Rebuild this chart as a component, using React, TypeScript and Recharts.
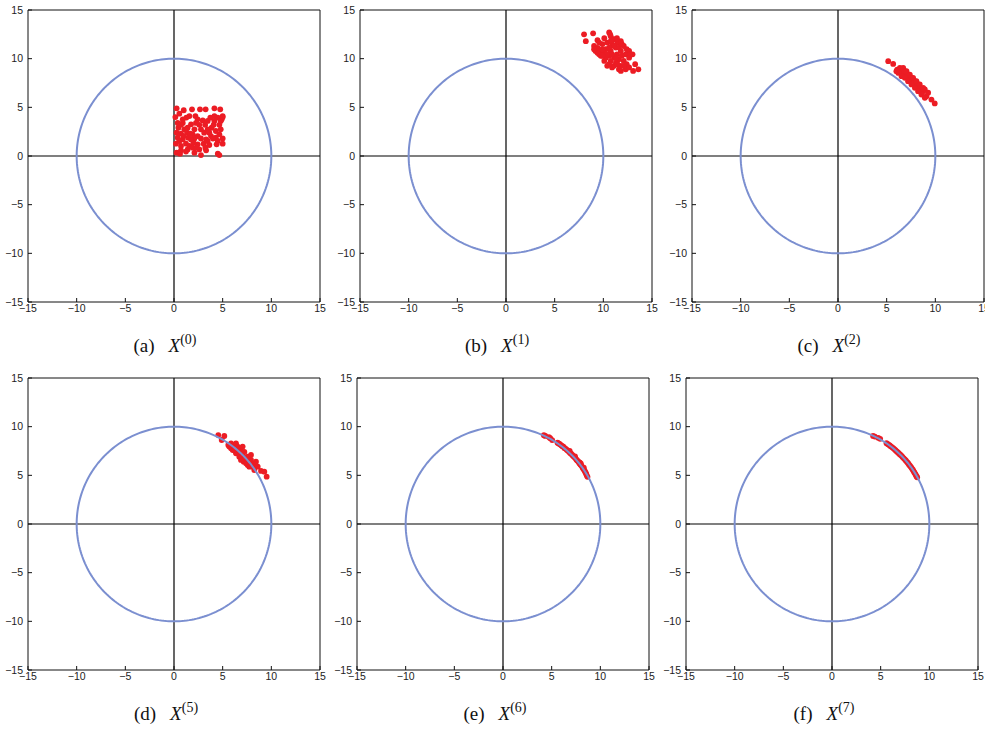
import React from 'react';
import { ScatterChart, Scatter, XAxis, YAxis, ReferenceLine } from 'recharts';

// ---------- data ----------
const AXIS_TICKS = [-15, -10, -5, 0, 5, 10, 15];
const AXIS_MIN = -15;
const AXIS_MAX = 15;
const CIRCLE_RADIUS = 10;
const CIRCLE_STEPS = 240;

const PANEL_LETTERS = ['a', 'b', 'c', 'd', 'e', 'f'];
const PANEL_ITERATIONS = [0, 1, 2, 5, 6, 7];

const pointsX0 = [
  { x: 0.27, y: 4.9 }, { x: 1.0, y: 4.7 }, { x: 1.85, y: 4.8 }, { x: 2.67, y: 4.8 }, { x: 3.25, y: 4.8 },
  { x: 4.15, y: 4.9 }, { x: 4.75, y: 4.8 }, { x: 0.14, y: 4.0 }, { x: 0.55, y: 4.35 }, { x: 1.27, y: 3.95 },
  { x: 1.58, y: 4.1 }, { x: 2.2, y: 4.1 }, { x: 2.43, y: 3.77 }, { x: 2.95, y: 3.66 }, { x: 3.46, y: 3.6 },
  { x: 3.73, y: 3.94 }, { x: 4.15, y: 4.1 }, { x: 4.5, y: 3.94 }, { x: 5.0, y: 4.1 }, { x: 4.9, y: 3.77 },
  { x: 4.15, y: 3.6 }, { x: 4.66, y: 3.2 }, { x: 0.9, y: 3.4 }, { x: 0.45, y: 2.9 }, { x: 0.72, y: 3.2 },
  { x: 1.06, y: 2.74 }, { x: 1.75, y: 3.25 }, { x: 2.1, y: 2.74 }, { x: 2.6, y: 3.2 }, { x: 3.2, y: 3.2 },
  { x: 3.87, y: 2.9 }, { x: 4.3, y: 2.57 }, { x: 4.8, y: 2.74 }, { x: 0.27, y: 2.4 }, { x: 0.72, y: 2.3 },
  { x: 1.34, y: 2.4 }, { x: 1.92, y: 2.23 }, { x: 2.43, y: 2.05 }, { x: 3.1, y: 2.4 }, { x: 3.8, y: 2.05 },
  { x: 4.3, y: 1.88 }, { x: 5.0, y: 1.8 }, { x: 0.38, y: 1.88 }, { x: 0.9, y: 1.7 }, { x: 1.47, y: 1.88 },
  { x: 2.1, y: 1.8 }, { x: 2.77, y: 1.8 }, { x: 3.3, y: 1.7 }, { x: 4.0, y: 1.8 }, { x: 4.5, y: 1.54 },
  { x: 5.0, y: 1.27 }, { x: 0.2, y: 1.27 }, { x: 0.72, y: 1.03 }, { x: 1.23, y: 1.27 }, { x: 1.58, y: 1.03 },
  { x: 2.0, y: 1.37 }, { x: 2.43, y: 1.2 }, { x: 3.05, y: 1.27 }, { x: 3.63, y: 1.13 }, { x: 4.38, y: 1.2 },
  { x: 0.27, y: 0.34 }, { x: 0.72, y: 0.58 }, { x: 1.23, y: 0.45 }, { x: 2.1, y: 0.34 }, { x: 2.6, y: 0.68 },
  { x: 2.77, y: 0.1 }, { x: 3.3, y: 0.58 }, { x: 4.5, y: 0.24 }, { x: 4.66, y: 0.1 }, { x: 1.4, y: 0.68 },
  { x: 1.92, y: 0.86 }, { x: 0.55, y: 1.54 }, { x: 1.0, y: 2.05 }, { x: 1.4, y: 2.9 }, { x: 2.77, y: 2.74 },
  { x: 3.46, y: 2.74 }, { x: 2.26, y: 3.4 }, { x: 3.63, y: 2.4 }, { x: 4.66, y: 2.23 }, { x: 4.07, y: 3.2 },
  { x: 0.9, y: 3.77 }, { x: 0.38, y: 3.4 }, { x: 1.75, y: 1.7 }, { x: 3.46, y: 1.54 }, { x: 4.8, y: 3.6 },
  { x: 5.0, y: 4.0 }, { x: 2.33, y: 0.86 }, { x: 0.62, y: 0.24 }, { x: 3.22, y: 0.86 }, { x: 1.68, y: 2.3 },
];

const pointsX1 = [
  { x: 8.02, y: 12.5 }, { x: 8.95, y: 12.6 }, { x: 8.2, y: 11.8 }, { x: 9.4, y: 11.9 }, { x: 10.6, y: 12.7 },
  { x: 10.76, y: 12.3 }, { x: 11.1, y: 12.0 }, { x: 11.45, y: 11.65 }, { x: 12.1, y: 11.3 }, { x: 12.65, y: 10.8 },
  { x: 13.0, y: 10.45 }, { x: 13.27, y: 9.43 }, { x: 13.6, y: 8.9 }, { x: 13.06, y: 8.74 }, { x: 12.3, y: 8.9 },
  { x: 11.6, y: 8.9 }, { x: 11.1, y: 9.26 }, { x: 10.4, y: 9.26 }, { x: 10.1, y: 9.77 }, { x: 9.74, y: 10.3 },
  { x: 9.2, y: 10.8 }, { x: 9.05, y: 11.3 }, { x: 9.4, y: 11.1 }, { x: 9.9, y: 11.5 }, { x: 10.25, y: 10.97 },
  { x: 10.76, y: 10.8 }, { x: 11.28, y: 11.14 }, { x: 11.8, y: 10.8 }, { x: 12.3, y: 10.45 }, { x: 12.65, y: 10.1 },
  { x: 12.1, y: 9.77 }, { x: 11.6, y: 9.94 }, { x: 11.1, y: 10.1 }, { x: 10.6, y: 10.3 }, { x: 10.1, y: 10.6 },
  { x: 10.4, y: 11.65 }, { x: 10.9, y: 11.5 }, { x: 11.4, y: 10.45 }, { x: 11.9, y: 10.3 }, { x: 12.4, y: 9.43 },
  { x: 11.8, y: 9.26 }, { x: 11.3, y: 9.6 }, { x: 10.76, y: 9.77 }, { x: 10.25, y: 10.1 }, { x: 9.74, y: 10.8 },
  { x: 9.57, y: 11.65 }, { x: 10.1, y: 12.1 }, { x: 10.76, y: 11.8 }, { x: 11.1, y: 11.3 }, { x: 11.6, y: 11.14 },
  { x: 11.9, y: 11.5 }, { x: 12.4, y: 10.97 }, { x: 12.8, y: 10.45 }, { x: 10.9, y: 9.1 }, { x: 10.6, y: 9.43 },
  { x: 12.1, y: 9.26 }, { x: 12.65, y: 9.1 }, { x: 9.57, y: 10.45 }, { x: 9.9, y: 10.97 }, { x: 10.4, y: 10.45 },
  { x: 11.45, y: 9.43 }, { x: 11.8, y: 8.74 }, { x: 11.28, y: 10.1 }, { x: 10.9, y: 10.45 }, { x: 10.6, y: 11.14 },
  { x: 9.9, y: 10.3 }, { x: 9.4, y: 10.6 }, { x: 9.05, y: 10.97 }, { x: 11.8, y: 11.8 }, { x: 11.4, y: 12.1 },
  { x: 10.7, y: 12.5 },
];

const pointsX2 = [
  { x: 5.16, y: 9.74 }, { x: 5.67, y: 9.46 }, { x: 6.08, y: 8.88 }, { x: 6.29, y: 8.71 }, { x: 6.53, y: 8.88 },
  { x: 6.7, y: 8.54 }, { x: 6.87, y: 8.71 }, { x: 7.04, y: 8.2 }, { x: 7.2, y: 8.37 }, { x: 7.38, y: 7.86 },
  { x: 7.55, y: 8.03 }, { x: 7.72, y: 7.52 }, { x: 7.9, y: 7.69 }, { x: 8.06, y: 7.17 }, { x: 8.23, y: 7.35 },
  { x: 8.4, y: 6.83 }, { x: 8.75, y: 6.66 }, { x: 8.92, y: 6.83 }, { x: 8.57, y: 6.32 }, { x: 9.09, y: 6.15 },
  { x: 9.6, y: 5.8 }, { x: 9.94, y: 5.4 }, { x: 6.2, y: 8.54 }, { x: 6.53, y: 8.2 }, { x: 6.87, y: 8.03 },
  { x: 7.2, y: 7.69 }, { x: 7.55, y: 7.35 }, { x: 7.9, y: 7.0 }, { x: 8.23, y: 6.66 }, { x: 6.36, y: 9.05 },
  { x: 6.7, y: 9.05 }, { x: 7.04, y: 8.71 }, { x: 7.38, y: 8.37 }, { x: 7.72, y: 8.03 }, { x: 8.06, y: 7.69 },
  { x: 8.4, y: 7.35 }, { x: 8.75, y: 7.0 }, { x: 8.92, y: 5.98 }, { x: 9.26, y: 6.5 }, { x: 6.0, y: 8.71 },
];

const pointsX5 = [
  { x: 4.55, y: 9.14 }, { x: 4.9, y: 8.63 }, { x: 5.17, y: 9.04 }, { x: 5.58, y: 8.12 }, { x: 5.86, y: 8.29 },
  { x: 6.2, y: 8.12 }, { x: 6.37, y: 8.29 }, { x: 6.54, y: 7.95 }, { x: 6.03, y: 7.6 }, { x: 6.37, y: 7.26 },
  { x: 6.71, y: 7.5 }, { x: 6.88, y: 7.77 }, { x: 7.05, y: 7.05 }, { x: 7.23, y: 7.4 }, { x: 7.4, y: 6.75 },
  { x: 7.57, y: 6.92 }, { x: 7.74, y: 6.4 }, { x: 7.91, y: 6.58 }, { x: 8.25, y: 6.23 }, { x: 8.42, y: 6.4 },
  { x: 8.08, y: 5.89 }, { x: 8.6, y: 5.89 }, { x: 8.94, y: 5.45 }, { x: 9.28, y: 5.38 }, { x: 9.52, y: 4.86 },
  { x: 5.86, y: 7.77 }, { x: 6.71, y: 6.92 }, { x: 7.16, y: 6.4 }, { x: 7.57, y: 6.06 }, { x: 7.91, y: 7.09 },
  { x: 6.2, y: 7.6 }, { x: 6.88, y: 6.58 }, { x: 7.4, y: 6.23 }, { x: 7.74, y: 5.89 }, { x: 8.25, y: 5.55 },
  { x: 6.54, y: 7.43 }, { x: 7.05, y: 7.95 }, { x: 5.68, y: 7.95 },
];

const pointsX6 = [
  { x: 4.2, y: 9.12 }, { x: 4.35, y: 9.05 }, { x: 4.72, y: 8.93 }, { x: 4.85, y: 8.82 }, { x: 5.05, y: 8.62 },
  { x: 5.6, y: 8.35 }, { x: 5.72, y: 8.28 }, { x: 5.85, y: 8.2 }, { x: 5.98, y: 8.08 }, { x: 6.1, y: 8.0 },
  { x: 6.2, y: 7.95 }, { x: 6.3, y: 7.82 }, { x: 6.42, y: 7.75 }, { x: 6.55, y: 7.62 }, { x: 6.65, y: 7.55 },
  { x: 6.78, y: 7.42 }, { x: 6.9, y: 7.3 }, { x: 7.0, y: 7.22 }, { x: 7.12, y: 7.1 }, { x: 7.22, y: 6.98 },
  { x: 7.32, y: 6.88 }, { x: 7.45, y: 6.75 }, { x: 7.55, y: 6.6 }, { x: 7.65, y: 6.5 }, { x: 7.78, y: 6.38 },
  { x: 7.85, y: 6.25 }, { x: 7.95, y: 6.12 }, { x: 8.05, y: 6.0 }, { x: 8.15, y: 5.85 }, { x: 8.22, y: 5.72 },
  { x: 8.3, y: 5.6 }, { x: 8.4, y: 5.45 }, { x: 8.48, y: 5.3 }, { x: 8.55, y: 5.15 }, { x: 8.6, y: 5.0 },
  { x: 8.68, y: 4.85 }, { x: 7.4, y: 6.95 }, { x: 7.9, y: 6.3 }, { x: 8.3, y: 5.8 }, { x: 8.0, y: 6.2 },
  { x: 6.85, y: 7.5 },
];

const pointsX7 = [
  { x: 4.22, y: 9.05 }, { x: 4.4, y: 8.98 }, { x: 4.75, y: 8.85 }, { x: 4.95, y: 8.75 }, { x: 5.6, y: 8.3 },
  { x: 5.75, y: 8.2 }, { x: 5.9, y: 8.1 }, { x: 6.02, y: 8.0 }, { x: 6.15, y: 7.9 }, { x: 6.28, y: 7.8 },
  { x: 6.4, y: 7.7 }, { x: 6.52, y: 7.58 }, { x: 6.65, y: 7.46 }, { x: 6.78, y: 7.35 }, { x: 6.9, y: 7.22 },
  { x: 7.02, y: 7.12 }, { x: 7.15, y: 7.0 }, { x: 7.25, y: 6.88 }, { x: 7.38, y: 6.75 }, { x: 7.5, y: 6.62 },
  { x: 7.6, y: 6.5 }, { x: 7.72, y: 6.36 }, { x: 7.82, y: 6.24 }, { x: 7.92, y: 6.1 }, { x: 8.02, y: 5.98 },
  { x: 8.12, y: 5.85 }, { x: 8.2, y: 5.72 }, { x: 8.3, y: 5.58 }, { x: 8.38, y: 5.44 }, { x: 8.46, y: 5.3 },
  { x: 8.55, y: 5.15 }, { x: 8.62, y: 5.02 }, { x: 8.7, y: 4.88 }, { x: 8.75, y: 4.8 },
];

const PANEL_POINTS = [pointsX0, pointsX1, pointsX2, pointsX5, pointsX6, pointsX7];

// reference circle x^2 + y^2 = R^2 (a geometric construct, not measured data)
const circleData = Array.from({ length: CIRCLE_STEPS + 1 }, (_, i) => {
  const t = (i / CIRCLE_STEPS) * 2 * Math.PI;
  return { x: CIRCLE_RADIUS * Math.cos(t), y: CIRCLE_RADIUS * Math.sin(t) };
});

// ---------- layout / style ----------
const PLOT = 292;
const Y_AXIS_W = 30;
const X_AXIS_H = 22;
const M = 5;
const CHART_W = Y_AXIS_W + PLOT + 1 + M;
const CHART_H = M + 1 + PLOT + X_AXIS_H;

const LAYOUT = [
  { plotLeft: 28, plotTop: 10, capX: 165, capTop: 336 },
  { plotLeft: 360, plotTop: 10, capX: 497, capTop: 336 },
  { plotLeft: 692, plotTop: 10, capX: 829, capTop: 336 },
  { plotLeft: 28, plotTop: 378, capX: 166, capTop: 704 },
  { plotLeft: 357, plotTop: 378, capX: 495, capTop: 704 },
  { plotLeft: 686, plotTop: 378, capX: 824, capTop: 704 },
];

const RED = '#ec1c24';
const CIRCLE_BLUE = '#7b8fd0';
const TICK_STYLE = { fontSize: 10.5, fill: '#222', fontFamily: '"Liberation Sans", Arial, Helvetica, sans-serif' };
const fmt = (v: number) => (v < 0 ? '\u2212' + Math.abs(v) : String(v));

const Dot = (props: any) => <circle cx={props.cx} cy={props.cy} r={2.9} fill={RED} />;
const NoShape = () => <g />;

function Panel({ index }: { index: number }) {
  const lay = LAYOUT[index];
  const pts = PANEL_POINTS[index];
  const domain: [number, number] = [AXIS_MIN, AXIS_MAX];
  return (
    <>
      <div style={{ position: 'absolute', left: lay.plotLeft - Y_AXIS_W, top: lay.plotTop - M - 1 }}>
        <ScatterChart width={CHART_W} height={CHART_H} margin={{ top: M, right: M, bottom: 0, left: 0 }}>
          <XAxis
            xAxisId="b" type="number" dataKey="x" domain={domain} ticks={AXIS_TICKS} allowDataOverflow
            interval={0} height={X_AXIS_H} tickSize={-4} tickMargin={7} tick={TICK_STYLE} tickFormatter={fmt}
            stroke="#111" axisLine={{ stroke: '#111' }} tickLine={{ stroke: '#111' }}
          />
          <XAxis
            xAxisId="t" orientation="top" type="number" dataKey="x" domain={domain} ticks={AXIS_TICKS}
            allowDataOverflow interval={0} height={1} tickSize={-4} tick={false}
            stroke="#111" axisLine={{ stroke: '#111' }} tickLine={{ stroke: '#111' }}
          />
          <YAxis
            yAxisId="l" type="number" dataKey="y" domain={domain} ticks={AXIS_TICKS} allowDataOverflow
            interval={0} width={Y_AXIS_W} tickSize={-4} tickMargin={9} tick={TICK_STYLE} tickFormatter={fmt}
            stroke="#111" axisLine={{ stroke: '#111' }} tickLine={{ stroke: '#111' }}
          />
          <YAxis
            yAxisId="r" orientation="right" type="number" dataKey="y" domain={domain} ticks={AXIS_TICKS}
            allowDataOverflow interval={0} width={1} tickSize={-4} tick={false}
            stroke="#111" axisLine={{ stroke: '#111' }} tickLine={{ stroke: '#111' }}
          />
          <ReferenceLine x={0} xAxisId="b" yAxisId="l" stroke="#000" strokeWidth={1.2} />
          <ReferenceLine y={0} xAxisId="b" yAxisId="l" stroke="#000" strokeWidth={1.2} />
          <Scatter
            xAxisId="b" yAxisId="l" data={pts} fill={RED} shape={Dot} isAnimationActive={false}
          />
          <Scatter
            xAxisId="b" yAxisId="l" data={circleData} fill={CIRCLE_BLUE} shape={NoShape}
            line={{ stroke: CIRCLE_BLUE, strokeWidth: 2 }} lineType="joint" isAnimationActive={false}
          />
        </ScatterChart>
      </div>
      <div
        style={{
          position: 'absolute', left: lay.capX - 100, top: lay.capTop, width: 200, textAlign: 'center',
          fontFamily: '"Liberation Serif", "Times New Roman", serif', fontSize: 19, lineHeight: '19px', color: '#111',
          whiteSpace: 'nowrap',
        }}
      >
        <span>({PANEL_LETTERS[index]})</span>
        <span style={{ marginLeft: 14 }}>
          <i>X</i>
          <span style={{ fontSize: 14, position: 'relative', top: -8 }}>({PANEL_ITERATIONS[index]})</span>
        </span>
      </div>
    </>
  );
}

export default function App() {
  return (
    <div style={{ position: 'absolute', left: 0, top: 0, width: 985, height: 729, overflow: 'hidden', background: '#fff' }}>
      {PANEL_LETTERS.map((_, i) => (
        <Panel key={i} index={i} />
      ))}
    </div>
  );
}
